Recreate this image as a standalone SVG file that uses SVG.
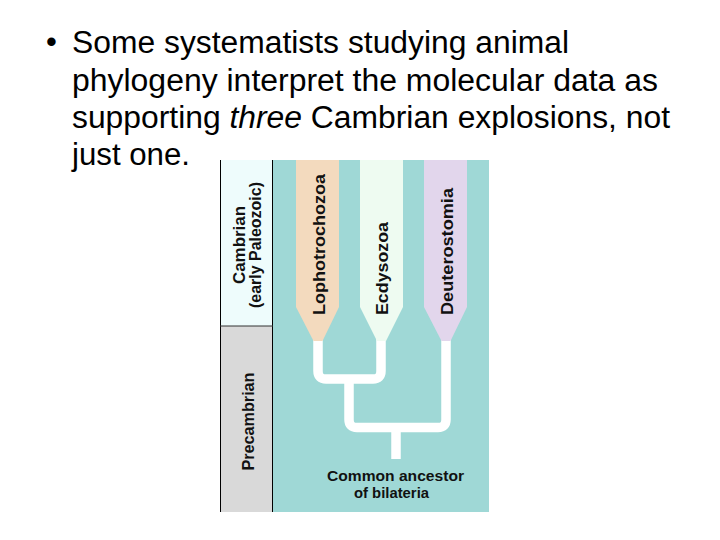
<svg xmlns="http://www.w3.org/2000/svg" width="720" height="540" viewBox="0 0 720 540">
<style>
.title{font-family:"Liberation Sans",Arial,sans-serif;font-size:31px;fill:#000}
.lbl{font-family:"Liberation Sans",Arial,sans-serif;font-size:16.5px;font-weight:bold;fill:#111}
.anc{font-family:"Liberation Sans",Arial,sans-serif;font-size:14px;font-weight:bold;fill:#111}
.br{fill:none;stroke:#ffffff;stroke-width:9.5}
</style>
<rect width="720" height="540" fill="#ffffff"/>
<g id="title">
<text class="title" x="46" y="52">•</text>
<text class="title" x="72" y="53" textLength="497" lengthAdjust="spacingAndGlyphs">Some systematists studying animal</text>
<text class="title" x="72" y="90.5" textLength="586" lengthAdjust="spacingAndGlyphs">phylogeny interpret the molecular data as</text>
<text class="title" x="72" y="128" textLength="598" lengthAdjust="spacingAndGlyphs">supporting <tspan font-style="italic">three</tspan> Cambrian explosions, not</text>
<text class="title" x="72" y="165" textLength="118" lengthAdjust="spacingAndGlyphs">just one.</text>
</g>
<g id="timescale">
<rect x="220" y="160" width="53" height="166" fill="#eefcfc"/>
<rect x="220" y="326" width="53" height="186" fill="#d9d9d9"/>
<line x1="220.5" y1="160" x2="220.5" y2="512" stroke="#000" stroke-width="1"/>
<line x1="272.5" y1="160" x2="272.5" y2="512" stroke="#000" stroke-width="1"/>
<line x1="220" y1="326" x2="273" y2="326" stroke="#333" stroke-width="1"/>
<text class="lbl" transform="translate(244.5,245) rotate(-90)" text-anchor="middle" textLength="78" lengthAdjust="spacingAndGlyphs">Cambrian</text>
<text class="lbl" transform="translate(260.5,245) rotate(-90)" text-anchor="middle" textLength="126" lengthAdjust="spacingAndGlyphs">(early Paleozoic)</text>
<text class="lbl" transform="translate(253.5,421.5) rotate(-90)" text-anchor="middle" textLength="98" lengthAdjust="spacingAndGlyphs">Precambrian</text>
</g>
<rect id="background" x="273" y="160" width="216" height="352" fill="#9fd8d6"/>
<g id="connectors">
<path class="br" d="M318,338 V371 Q318,379 326,379 H373 Q381,379 381,371 V338"/>
<path class="br" d="M349,379 V419.5 Q349,427.5 357,427.5 H438 Q446,427.5 446,419.5 V338"/>
<path class="br" d="M396,427.5 V459"/>
</g>
<g id="lophotrochozoa">
<polygon points="296,160 339,160 339,307 322.5,341 313.5,341 296,307" fill="#f3dabe"/>
<text class="lbl" font-size="17" transform="translate(324.5,315) rotate(-90)" textLength="141" lengthAdjust="spacingAndGlyphs">Lophotrochozoa</text>
</g>
<g id="ecdysozoa">
<polygon points="360,160 403,160 403,307 386,341 377,341 360,307" fill="#eefbf1"/>
<text class="lbl" font-size="17" transform="translate(387.5,315) rotate(-90)" textLength="93" lengthAdjust="spacingAndGlyphs">Ecdysozoa</text>
</g>
<g id="deuterostomia">
<polygon points="424,160 467,160 467,307 450.5,341 441.5,341 424,307" fill="#e2d6ec"/>
<text class="lbl" font-size="17" transform="translate(452.5,315) rotate(-90)" textLength="127" lengthAdjust="spacingAndGlyphs">Deuterostomia</text>
</g>
<g id="ancestor">
<text class="anc" x="395.5" y="481" text-anchor="middle" textLength="137" lengthAdjust="spacingAndGlyphs">Common ancestor</text>
<text class="anc" x="391.5" y="497.5" text-anchor="middle" textLength="75" lengthAdjust="spacingAndGlyphs">of bilateria</text>
</g>
</svg>
